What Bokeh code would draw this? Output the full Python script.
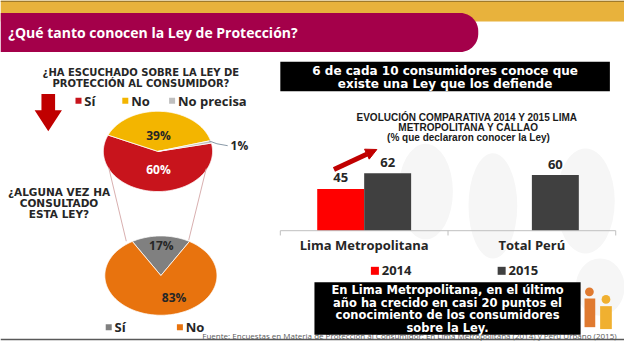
import numpy as np
from bokeh.plotting import figure
from bokeh.models import Range1d, Arrow, NormalHead
from bokeh.core.properties import value
from bokeh.embed import file_html
from bokeh.resources import INLINE

# ---------------- data ----------------
title = "¿Qué tanto conocen la Ley de Protección?"
q1_title = ["¿HA ESCUCHADO SOBRE LA LEY DE", "PROTECCIÓN AL CONSUMIDOR?"]
q1_labels = ["Sí", "No", "No precisa"]
q1_values = [60, 39, 1]
q2_title = ["¿ALGUNA VEZ HA", "CONSULTADO", "ESTA LEY?"]
q2_labels = ["Sí", "No"]
q2_values = [17, 83]
headline = ["6 de cada 10 consumidores conoce que", "existe una Ley que los defiende"]
bar_title = ["EVOLUCIÓN COMPARATIVA  2014 Y 2015 LIMA", "METROPOLITANA Y CALLAO",
             "(% que declararon conocer la Ley)"]
bar_categories = ["Lima Metropolitana", "Total Perú"]
bar_years = ["2014", "2015"]
bar_2014 = [45, None]
bar_2015 = [62, 60]
note = ["En Lima Metropolitana, en el último", "año ha crecido en casi 20 puntos el",
        "conocimiento de los consumidores", "sobre la Ley."]
source = ("Fuente: Encuestas en Materia de Protección al Consumidor: "
          "En Lima Metropolitana (2014) y Perú Urbano (2015)")

# ---------------- styles ----------------
GOTH = value("Open Sans")
WIDE = value("DejaVu Sans")
ARIAL = value("Liberation Sans")
DARK = "#262626"
RED_PIE = "#c8141c"
YELLOW = "#f3b500"
LIGHTGRAY = "#bfbfbf"
ORANGE = "#e8730e"
MIDGRAY = "#808080"
BAR_RED = "#ff0000"
BAR_GRAY = "#404040"
CRIMSON = "#a4004a"
GOLD = "#e8b23c"

W, H = 640, 357   # canvas units (reference pixels)
p = figure(width=624, height=341, x_range=Range1d(0, W), y_range=Range1d(H, 0),
           output_backend="svg", toolbar_location=None, min_border=0,
           x_axis_type=None, y_axis_type=None,
           background_fill_color="white", border_fill_color="white",
           outline_line_color=None)
p.xgrid.visible = False
p.ygrid.visible = False

# ---------------- faint watermark ----------------
for (cx, cy, w, h) in [(436, 200, 56, 100), (505, 215, 50, 110), (600, 210, 60, 110), (615, 300, 50, 60)]:
    p.ellipse(x=cx, y=cy, width=w, height=h, fill_color="#f6f6f6", line_color=None)

# ---------------- header ----------------
p.quad(left=0, right=W, top=0, bottom=22, fill_color=GOLD, line_color=None)
p.segment(x0=[0], y0=[0.8], x1=[W], y1=[0.8], line_color="#a07a2a", line_width=1.5)
r = 19
t = np.linspace(-np.pi / 2, 0, 12)
t2 = np.linspace(0, np.pi / 2, 12)
hx = [0] + list(490 - r + r * np.cos(t)) + list(490 - r + r * np.cos(t2)) + [0]
hy = [13] + list(13 + r + r * np.sin(t)) + list(54 - r + r * np.sin(t2)) + [54]
p.patch(hx, hy, fill_color=CRIMSON, line_color=None)
p.text(x=[8], y=[34], text=[title], text_color="white", text_font=GOTH,
       text_font_size="14px", text_font_style="bold", text_baseline="middle")

# ---------------- left: question 1 ----------------
p.text(x=[144, 144], y=[75.5, 87], text=q1_title, text_color=DARK, text_font=WIDE,
       text_font_size="10px", text_font_style="bold", text_align="center",
       text_baseline="middle")
# big red down arrow
p.patch([42, 56, 56, 63, 49, 35, 42], [98, 98, 115, 115, 137, 115, 115],
        fill_color="#c00000", line_color=None)

q1_colors = [RED_PIE, YELLOW, LIGHTGRAY]
leg_x = [77, 125, 173]
p.scatter(x=[lx + 3 for lx in leg_x], y=[105] * 3, size=6, fill_color=q1_colors,
          line_color=None, marker="square")
p.text(x=[lx + 9 for lx in leg_x], y=[105] * 3, text=q1_labels, text_color=DARK, text_font=GOTH,
       text_font_size="13px", text_font_style="bold", text_baseline="middle")


def ellipse_slices(cx, cy, rx, ry, vals, start_deg):
    total = float(sum(vals))
    xs, ys = [], []
    a = start_deg
    for v in vals:
        span = 360.0 * v / total
        tt = np.radians(np.linspace(a, a - span, max(int(span), 2) + 1))
        xs.append([cx] + list(cx + rx * np.cos(tt)))
        ys.append([cy] + list(cy - ry * np.sin(tt)))
        a -= span
    return xs, ys


# pie 1 (clockwise from the right side)
xs1, ys1 = ellipse_slices(161.5, 158, 56, 42, q1_values, 12)
p.patches(xs1, ys1, fill_color=q1_colors, line_color="white", line_width=0.8)
p.text(x=[162], y=[141], text=[f"{q1_values[1]}%"], text_color=DARK, text_font=GOTH,
       text_font_size="12px", text_font_style="bold", text_align="center", text_baseline="middle")
p.text(x=[162], y=[177], text=[f"{q1_values[0]}%"], text_color="white", text_font=GOTH,
       text_font_size="12px", text_font_style="bold", text_align="center", text_baseline="middle")
p.line([214, 222, 233], [147, 150, 152], line_color="#8a9aa8", line_width=1)
p.text(x=[236], y=[152], text=[f"{q1_values[2]}%"], text_color=DARK, text_font=GOTH,
       text_font_size="12px", text_font_style="bold", text_baseline="middle")

# connector lines
p.segment(x0=[111, 211], y0=[175, 176], x1=[129, 193], y1=[252, 251],
          line_color="#d9b0b0", line_width=1)

# ---------------- left: question 2 ----------------
p.text(x=[60, 60, 60], y=[200, 211.5, 223], text=q2_title, text_color=DARK, text_font=WIDE,
       text_font_size="10.5px", text_font_style="bold", text_align="center", text_baseline="middle")
q2_colors = [MIDGRAY, ORANGE]
xs2, ys2 = ellipse_slices(164.5, 288, 57.5, 41.5, q2_values, 90 + 180 * q2_values[0] / 100.0)
p.patches(xs2, ys2, fill_color=q2_colors, line_color="white", line_width=0.8)
p.text(x=[165], y=[257], text=[f"{q2_values[0]}%"], text_color=DARK, text_font=GOTH,
       text_font_size="12px", text_font_style="bold", text_align="center", text_baseline="middle")
p.text(x=[178], y=[311], text=[f"{q2_values[1]}%"], text_color=DARK, text_font=GOTH,
       text_font_size="12px", text_font_style="bold", text_align="center", text_baseline="middle")
leg2_x = [108, 181]
p.scatter(x=[lx + 3 for lx in leg2_x], y=[342] * 2, size=6, fill_color=q2_colors,
          line_color=None, marker="square")
p.text(x=[lx + 9 for lx in leg2_x], y=[342] * 2, text=q2_labels, text_color=DARK, text_font=GOTH,
       text_font_size="13px", text_font_style="bold", text_baseline="middle")

# ---------------- right: headline box ----------------
p.quad(left=287, right=625, top=64, bottom=95, fill_color="black", line_color=None)
p.text(x=[456, 456], y=[73.5, 87.5], text=headline, text_color="white", text_font=WIDE,
       text_font_size="12px", text_font_style="bold", text_align="center", text_baseline="middle")

# ---------------- right: bar chart ----------------
p.text(x=[480, 480, 480], y=[123, 133, 143.5], text=bar_title, text_color="#1a1a1a",
       text_font=ARIAL, text_font_size="10px", text_font_style="bold", text_align="center",
       text_baseline="middle")

BASE_Y, PX = 241.0, 0.97       # baseline position, canvas units per percentage point
AX0, GW = 287.0, 172.0         # axis start, width of one category
p.extra_y_ranges = {"bars": Range1d(start=(BASE_Y - H) / PX, end=(BASE_Y - 0) / PX)}
p.extra_x_ranges = {"cats": Range1d(start=(0 - AX0) / GW, end=(W - AX0) / GW)}

n = len(bar_categories)
x14 = [i + 0.5 - 0.14 for i in range(n) if bar_2014[i] is not None]
v14 = [v for v in bar_2014 if v is not None]
x15 = [i + 0.5 + 0.14 for i in range(n) if bar_2015[i] is not None]
v15 = [v for v in bar_2015 if v is not None]
p.vbar(x=x14, top=v14, bottom=0, width=0.28, fill_color=BAR_RED, line_color=None,
       x_range_name="cats", y_range_name="bars")
p.vbar(x=x15, top=v15, bottom=0, width=0.28, fill_color=BAR_GRAY, line_color=None,
       x_range_name="cats", y_range_name="bars")
lbl_style = dict(text_color=DARK, text_font=GOTH, text_font_size="13px", text_font_style="bold",
                 text_align="center", text_baseline="middle", x_range_name="cats",
                 y_range_name="bars")
p.text(x=x14, y=v14, text=[str(v) for v in v14], y_offset=-12, **lbl_style)
p.text(x=x15, y=v15, text=[str(v) for v in v15], y_offset=-11, **lbl_style)

# category axis
p.segment(x0=[0], y0=[0], x1=[n], y1=[0], line_color="#bfbfbf", line_width=1,
          x_range_name="cats", y_range_name="bars")
p.segment(x0=list(range(n + 1)), y0=[0] * (n + 1), x1=list(range(n + 1)), y1=[-5 / PX] * (n + 1),
          line_color="#bfbfbf", line_width=1, x_range_name="cats", y_range_name="bars")
p.text(x=[i + 0.5 for i in range(n)], y=[0] * n, text=bar_categories, y_offset=14,
       text_color=DARK, text_font=GOTH, text_font_size="13px", text_font_style="bold",
       text_align="center", text_baseline="middle", x_range_name="cats", y_range_name="bars")

# legend of bar chart
bl_x = [380, 510]
p.scatter(x=[bx + 4 for bx in bl_x], y=[283] * 2, size=8, fill_color=[BAR_RED, BAR_GRAY],
          line_color=None, marker="square")
p.text(x=[bx + 11 for bx in bl_x], y=[283] * 2, text=bar_years, text_color=DARK, text_font=GOTH,
       text_font_size="13px", text_font_style="bold", text_baseline="middle")

# growth arrow
p.add_layout(Arrow(end=NormalHead(size=11, fill_color="#c00000", line_color="#c00000"),
                   x_start=342, y_start=177, x_end=386, y_end=156,
                   line_color="#c00000", line_width=5))

# ---------------- footer ----------------
p.text(x=[207], y=[351], text=[source], text_color="#595959", text_font=GOTH,
       text_font_size="8px", text_baseline="middle")
p.segment(x0=[0], y0=[355], x1=[W], y1=[355], line_color="#595959", line_width=1.5)

p.quad(left=322, right=595, top=295, bottom=350, fill_color="black", line_color=None)
p.text(x=[458.5] * 4, y=[303.5, 316.5, 329.5, 342.5], text=note, text_color="white",
       text_font=WIDE, text_font_size="11.5px", text_font_style="bold", text_align="center",
       text_baseline="middle")

# logo figures
p.circle(x=[604, 621], y=[305, 313], radius=4.5, fill_color=["#e07a30", "#f0b030"], line_color=None)
p.quad(left=[599, 615], right=[610, 627], top=[312, 320], bottom=[342, 344],
       fill_color=["#e07a30", "#f0b030"], line_color=None)

open("out.html", "w").write(file_html(p, INLINE))
